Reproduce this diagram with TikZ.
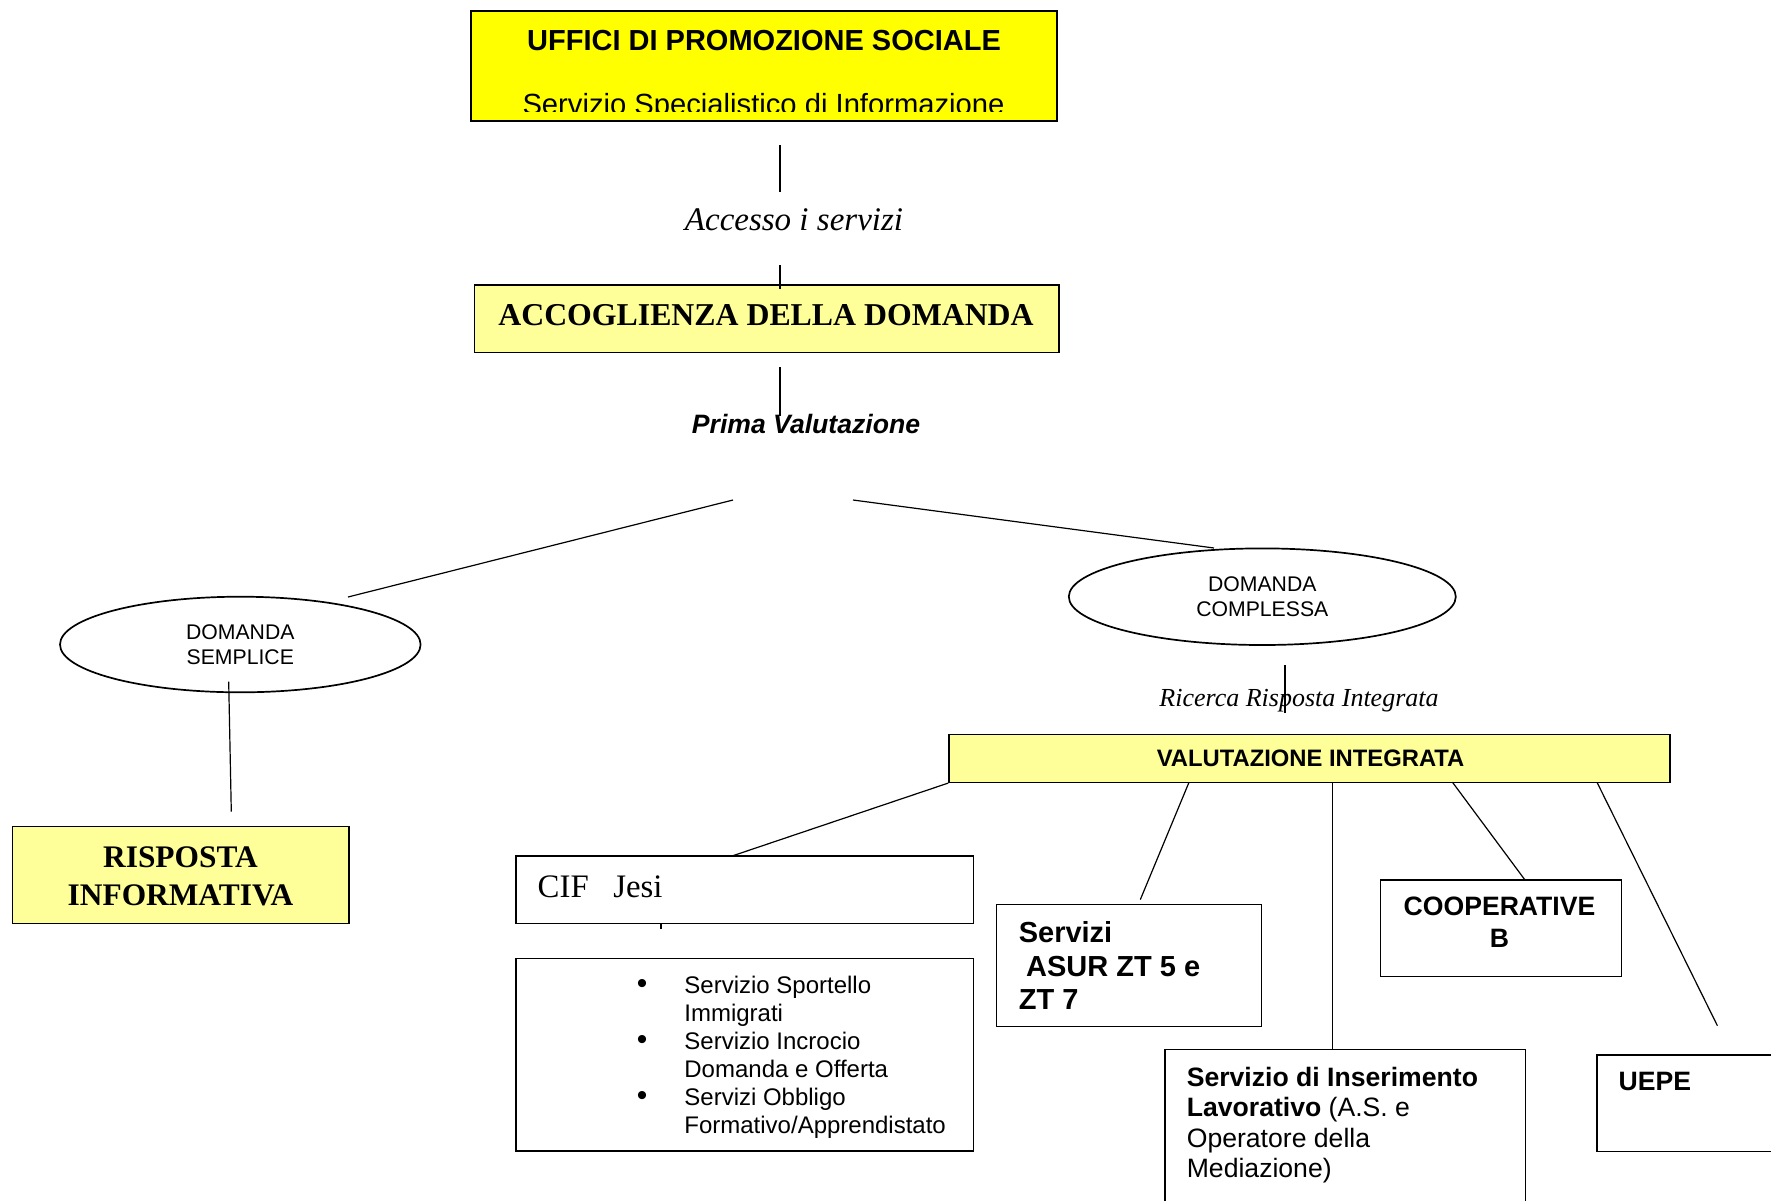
\documentclass[tikz,border=0pt]{standalone}
\usepackage{fontspec}
\setmainfont{Liberation Serif}
\setsansfont{Liberation Sans}
\usetikzlibrary{positioning,shapes.geometric}

\definecolor{giallo}{HTML}{FFFF00}
\definecolor{giallino}{HTML}{FFFF99}

\tikzset{
  box/.style={draw, line width=0.75pt, inner sep=0pt},
  bubble/.style={draw, ellipse, line width=0.85pt, inner sep=0pt, align=center,
    font=\sffamily\fontsize{10.6}{12.5}\selectfont},
  link/.style={line width=0.6pt},
  lbl/.style={inner sep=0pt, anchor=base},
  lblw/.style={inner sep=0pt, anchor=base west, align=left},
}
\newcommand{\puntino}{\makebox[23.75pt][l]{\fontsize{15}{14}\selectfont\textbullet}}

\begin{document}
\begin{tikzpicture}[x=0.5pt,y=-0.5pt]
\useasboundingbox (0,0) rectangle (1771,1200);

%Top box, the second line is cut by the border
\node[box, fill=giallo, minimum width=293pt, minimum height=55pt] (uffici) at (764,66) {};
\node[lbl, font=\sffamily\bfseries\fontsize{14.5}{17}\selectfont] (ufficiT) at (764,50) {UFFICI DI PROMOZIONE SOCIALE};
\begin{scope}
\clip (uffici.north west) rectangle ([yshift=5.15pt]uffici.south east);
\node[lbl, font=\sffamily\fontsize{14.6}{17}\selectfont] (ufficiS) at (763.5,114) {Servizio Specialistico di Informazione};
\end{scope}

\node[lbl, font=\itshape\fontsize{16.5}{19}\selectfont] (accesso) at (794,230) {Accesso i servizi};

\node[box, fill=giallino, minimum width=292.1pt, minimum height=33.85pt] (accog) at (766.7,318.85) {};
\node[lbl, font=\bfseries\fontsize{15.9}{18}\selectfont] (accogT) at (766,325) {ACCOGLIENZA DELLA DOMANDA};

\node[lbl, font=\sffamily\bfseries\itshape\fontsize{13.3}{15}\selectfont] (prima) at (806,433) {Prima Valutazione};

%The two kinds of request
\node[bubble, minimum width=180.3pt, minimum height=47.8pt] (semplice) at (240.3,644.5) {DOMANDA\\SEMPLICE};
\node[bubble, minimum width=193.5pt, minimum height=48.3pt] (complessa) at (1262.3,596.7) {DOMANDA\\COMPLESSA};

%multi-line labels sit on the baseline of their last line
\node[box, fill=giallino, minimum width=168.35pt, minimum height=48.3pt] (risposta) at (180.65,875) {};
\node[lbl, align=center, font=\bfseries\fontsize{15.7}{18.8}\selectfont] (rispostaT) at (180.5,905) {RISPOSTA\\INFORMATIVA};

\node[lbl, font=\itshape\fontsize{13}{15}\selectfont] (ricerca) at (1299,706.7) {Ricerca Risposta Integrata};

\node[box, fill=giallino, minimum width=360.5pt, minimum height=24pt] (valint) at (1309.5,758.3) {};
\node[lbl, font=\sffamily\bfseries\fontsize{11.9}{14}\selectfont] (valintT) at (1310.6,766.7) {VALUTAZIONE INTEGRATA};

%Services
\node[box, minimum width=228.65pt, minimum height=33.65pt] (cif) at (744.65,889.65) {};
\node[lblw, font=\fontsize{16.4}{19}\selectfont] (cifT) at (537.3,897.3) {CIF\ \ \ Jesi};

\node[box, minimum width=228.65pt, minimum height=96.35pt] (sportelli) at (744.65,1054.65) {};
\node[lblw, font=\sffamily\fontsize{12}{14}\selectfont] (sportelliT) at (636.5,1133.3)
  {\puntino Servizio Sportello\\\hspace*{23.75pt}Immigrati\\
   \puntino Servizio Incrocio\\\hspace*{23.75pt}Domanda e Offerta\\
   \puntino Servizi Obbligo\\\hspace*{23.75pt}Formativo/Apprendistato};

\node[box, minimum width=132.5pt, minimum height=61.05pt] (asur) at (1129.2,965.35) {};
\node[lblw, font=\sffamily\bfseries\fontsize{14.5}{16.8}\selectfont] (asurT) at (1018.4,1009.8) {Servizi\\\hspace*{3.7pt}ASUR ZT 5 e\\ZT 7};

\node[box, minimum width=120.55pt, minimum height=48.2pt] (coop) at (1500.95,928.2) {};
\node[lbl, align=center, font=\sffamily\bfseries\fontsize{13.3}{15.6}\selectfont] (coopT) at (1499.5,947) {COOPERATIVE\\B};

\node[box, minimum width=180.2pt, minimum height=82.7pt] (sil) at (1345.4,1132.3) {};
\node[lblw, font=\sffamily\fontsize{13.3}{15.2}\selectfont] (silT) at (1186.4,1177.5) {\textbf{Servizio di Inserimento}\\\textbf{Lavorativo} (A.S. e\\Operatore della\\Mediazione)};

\node[box, minimum width=96.5pt, minimum height=48.2pt] (uepe) at (1693.5,1103.2) {};
\node[lblw, font=\sffamily\bfseries\fontsize{13.3}{15.2}\selectfont] (uepeT) at (1618.3,1090.7) {UEPE};

%Loose ends of the connectors
\coordinate (c1a) at (780,145); \coordinate (c1b) at (780,192);
\coordinate (c2a) at (780,265); \coordinate (c2b) at (780,289);
\coordinate (c3a) at (780,367); \coordinate (c3b) at (780,416);
\coordinate (c4a) at (733,500); \coordinate (c4b) at (348,597);
\coordinate (c5a) at (853,500); \coordinate (c5b) at (1214,548);
\coordinate (c6a) at (228.7,681.7); \coordinate (c6b) at (231.3,811.7);
\coordinate (c7a) at (1285,665); \coordinate (c7b) at (1285,713);
\coordinate (t1) at (661,923.3); \coordinate (t2) at (661,929.3);
\coordinate (v1) at (732,856);
\coordinate (v2a) at (1189,782.3); \coordinate (v2b) at (1140.3,899.6);
\coordinate (v3a) at (1332.7,782.3); \coordinate (v3b) at (1332.7,1049.6);
\coordinate (v4a) at (1452.5,782.3); \coordinate (v4b) at (1525,880);
\coordinate (v5a) at (1597,782.3); \coordinate (v5b) at (1717.4,1025.7);

%Drawing the connectors
\draw[link] (c1a) -- (c1b);
\draw[link] (c2a) -- (c2b);
\draw[link] (c3a) -- (c3b);
\draw[link] (c4a) -- (c4b);
\draw[link] (c5a) -- (c5b);
\draw[link] (c6a) -- (c6b);
\draw[link] (c7a) -- (c7b);
\draw[link] (t1) -- (t2);
\draw[link] (valint.south west) -- (v1);
\draw[link] (v2a) -- (v2b);
\draw[link] (v3a) -- (v3b);
\draw[link] (v4a) -- (v4b);
\draw[link] (v5a) -- (v5b);
\end{tikzpicture}
\end{document}
